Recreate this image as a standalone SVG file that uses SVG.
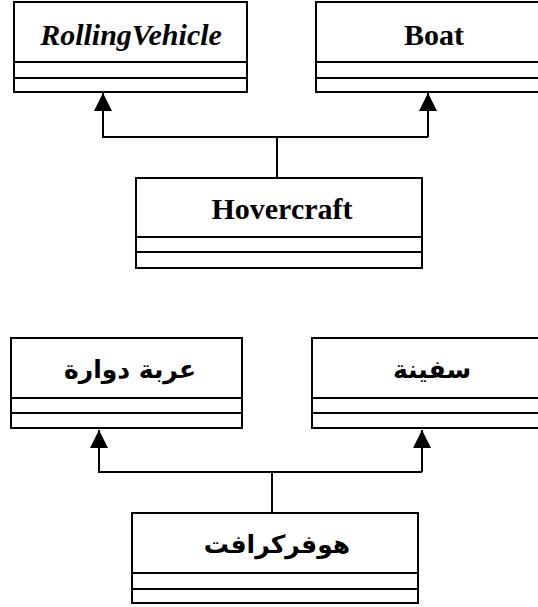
<svg xmlns="http://www.w3.org/2000/svg" width="538" height="607" viewBox="0 0 538 607">
<style>
.box{fill:#fff;stroke:#000;stroke-width:2}
.ln{stroke:#000;stroke-width:2;fill:none}
.en{font-family:"Liberation Serif","Times New Roman",serif;font-weight:bold;font-size:30px;text-anchor:middle}
.ar{font-family:"DejaVu Sans","Noto Sans",sans-serif;font-weight:bold;font-size:25px;text-anchor:middle}
</style>
<defs>
<marker id="tri" markerWidth="18" markerHeight="18" viewBox="0 0 18 18" refX="18" refY="9" orient="auto" markerUnits="userSpaceOnUse">
<path d="M0,0 L18,9 L0,18 Z" fill="#000"/>
</marker>
</defs>
<g id="connectors">
<path class="ln" d="M277,180 V137"/>
<path class="ln" d="M102,137 H428"/>
<path class="ln" d="M103,137 V93" marker-end="url(#tri)"/>
<path class="ln" d="M428,137 V93" marker-end="url(#tri)"/>
<path class="ln" d="M272,515 V472"/>
<path class="ln" d="M98,472 H422"/>
<path class="ln" d="M99,472 V430" marker-end="url(#tri)"/>
<path class="ln" d="M422,472 V430" marker-end="url(#tri)"/>
</g>
<g id="rolling">
<rect class="box" x="14" y="2" width="233" height="90"/>
<path class="ln" d="M14,62 H247 M14,78 H247"/>
<text class="en" x="131" y="45" font-style="italic">RollingVehicle</text>
</g>
<g id="boat">
<rect class="box" x="316" y="2" width="234" height="90"/>
<path class="ln" d="M316,62 H550 M316,78 H550"/>
<text class="en" x="434" y="45">Boat</text>
</g>
<g id="hovercraft">
<rect class="box" x="136" y="178" width="286" height="90"/>
<path class="ln" d="M136,237 H422 M136,252 H422"/>
<text class="en" x="282" y="219">Hovercraft</text>
</g>
<g id="arabic-rolling">
<rect class="box" x="11" y="338" width="231" height="90"/>
<path class="ln" d="M11,398 H242 M11,413 H242"/>
<text class="ar" x="130" y="378" direction="rtl">عربة دوارة</text>
</g>
<g id="arabic-boat">
<rect class="box" x="312" y="338" width="240" height="90"/>
<path class="ln" d="M312,398 H552 M312,413 H552"/>
<text class="ar" x="432" y="378" direction="rtl">سفينة</text>
</g>
<g id="arabic-hovercraft">
<rect class="box" x="132" y="513" width="286" height="90"/>
<path class="ln" d="M132,573 H418 M132,589 H418"/>
<text class="ar" x="277" y="553" direction="rtl">هوفركرافت</text>
</g>
</svg>
